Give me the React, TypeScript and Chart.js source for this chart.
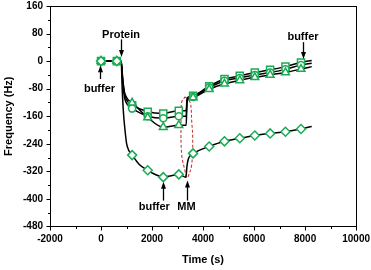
import React, { useEffect, useRef } from 'react';
import { Chart, registerables } from 'chart.js';

Chart.register(...registerables);

const FONT = "'Liberation Sans', Arial, Helvetica, sans-serif";
const GREEN = '#1aab55';
const RED = '#c43a3a';

// Marker sample times (s)
const markerTimes = [0, 620, 1220, 1830, 2440, 3050, 3610, 4240, 4840, 5440, 6030, 6630, 7230, 7840];
const squareVals = [0, 0, -128, -147, -152, -144, -101, -73, -52, -43, -33, -25, -16, -4];
const circleVals = [0, 0, -138, -160, -166, -160, -104, -77, -57, -49, -40, -33, -24, -11];
const triangleVals = [0, 0, -121, -164, -192, -186, -106, -82, -66, -56, -47, -40, -33, -23];
const diamondVals = [0, 0, -273, -317, -337, -329, -268, -248, -233, -224, -216, -210, -205, -197];

// Fitted (continuous) curves
const upperFitTimes = [0, 620, 790, 850, 920, 1000, 1100, 1220, 1830, 2440, 3050, 3340, 3370, 3430, 3610, 4240, 4840, 5440, 6030, 6630, 7230, 7840, 8260];
const squareFit = [0, 0, 0, -55, -95, -112, -122, -128, -147, -152, -144, -144, -112, -104, -101, -73, -52, -43, -33, -25, -16, -4, 2];
const circleFit = [0, 0, 0, -60, -105, -122, -132, -138, -160, -166, -160, -160, -116, -108, -104, -77, -57, -49, -40, -33, -24, -11, -6];
const triangleFit = [0, 0, 0, -50, -90, -105, -115, -121, -164, -192, -186, -186, -120, -110, -106, -82, -66, -56, -47, -40, -33, -23, -16];

const diamondFitTimes = [0, 620, 790, 830, 880, 940, 1000, 1080, 1220, 1500, 1830, 2150, 2440, 2750, 3050, 3330, 3370, 3420, 3500, 3610, 4240, 4840, 5440, 6030, 6630, 7230, 7840, 8260];
const diamondFit = [0, 0, 0, -80, -150, -200, -238, -258, -273, -300, -317, -330, -337, -333, -329, -337, -305, -285, -274, -268, -248, -233, -224, -216, -210, -205, -197, -190];

// Red dashed loop
const loopTimes = [3294, 3489, 3556, 3595, 3556, 3422, 3359, 3294, 3164, 3136, 3164, 3294];
const loopVals = [-104, -119, -176, -224, -300, -334, -339, -319, -272, -176, -119, -104];

// Axis ticks
const xMin = -2000, xMax = 10000, xStep = 2000, xMinor = 1000;
const yMin = -480, yMax = 160, yStep = 80, yMinor = 40;

// Annotations: label text + arrow (data coordinates)
const notes = [
  { text: 'Protein', tx: 784, ty: 77, ax: 784, ay0: 63, ay1: 12 },
  { text: 'buffer', tx: -59, ty: -80, ax: -39, ay0: -52, ay1: -12 },
  { text: 'buffer', tx: 2089, ty: -423, ax: 2419, ay0: -405, ay1: -350 },
  { text: 'MM', tx: 3352, ty: -423, ax: 3359, ay0: -405, ay1: -347 },
  { text: 'buffer', tx: 7918, ty: 69, ax: 7907, ay0: 55, ay1: 6 },
];

const xTitle = 'Time (s)';
const yTitle = 'Frequency (Hz)';

const W0 = 371, H0 = 270;
const AREA = { left: 50, top: 6, right: 356, bottom: 229 };

const pts = (ts: number[], vs: number[]) => ts.map((t, i) => ({ x: t, y: vs[i] }));

const overlay = {
  id: 'overlay',
  afterDraw(chart: any) {
    const ctx = chart.ctx;
    const { left, right, top, bottom } = chart.chartArea;
    const xs = chart.scales.x;
    const ys = chart.scales.y;
    ctx.save();
    ctx.strokeStyle = '#000';
    ctx.lineWidth = 1;
    ctx.strokeRect(Math.round(left) + 0.5, Math.round(top) + 0.5, Math.round(right - left), Math.round(bottom - top));
    // ticks outward
    ctx.beginPath();
    const b = Math.round(bottom) + 0.5;
    const l = Math.round(left) + 0.5;
    for (let v = xMin; v <= xMax; v += xMinor) {
      const px = Math.round(xs.getPixelForValue(v)) + 0.5;
      const len = v % xStep === 0 ? 4 : 2.5;
      ctx.moveTo(px, b);
      ctx.lineTo(px, b + len);
    }
    for (let v = yMin; v <= yMax; v += yMinor) {
      const py = Math.round(ys.getPixelForValue(v)) + 0.5;
      const len = Math.abs(v) % yStep === 0 ? 4 : 2.5;
      ctx.moveTo(l, py);
      ctx.lineTo(l - len, py);
    }
    ctx.stroke();

    // annotations
    ctx.fillStyle = '#000';
    ctx.font = `bold 11px ${FONT}`;
    ctx.textAlign = 'center';
    ctx.textBaseline = 'middle';
    for (const n of notes) {
      ctx.fillText(n.text, xs.getPixelForValue(n.tx), ys.getPixelForValue(n.ty));
      const ax = Math.round(xs.getPixelForValue(n.ax)) + 0.5;
      const y0 = ys.getPixelForValue(n.ay0);
      const y1 = ys.getPixelForValue(n.ay1);
      const dir = y1 > y0 ? 1 : -1;
      ctx.lineWidth = 1.3;
      ctx.beginPath();
      ctx.moveTo(ax, y0);
      ctx.lineTo(ax, y1 - dir * 5);
      ctx.stroke();
      ctx.beginPath();
      ctx.moveTo(ax, y1);
      ctx.lineTo(ax - 2.5, y1 - dir * 7);
      ctx.lineTo(ax + 2.5, y1 - dir * 7);
      ctx.closePath();
      ctx.fill();
    }

    // axis titles (relative to plot area)
    ctx.font = `bold 11px ${FONT}`;
    ctx.fillText(xTitle, left + 153, bottom + 34);
    ctx.save();
    ctx.translate(left - 41, (top + bottom) / 2);
    ctx.rotate(-Math.PI / 2);
    ctx.fillText(yTitle, 0, 0);
    ctx.restore();
    ctx.restore();
  },
};

export default function App() {
  const ref = useRef<HTMLCanvasElement>(null);
  useEffect(() => {
    document.body.style.margin = '0';
    document.body.style.overflow = 'hidden';
    const canvas = ref.current!;
    const lineDs = (ts: number[], vs: number[]) => ({
      type: 'line' as const,
      data: pts(ts, vs),
      borderColor: '#000',
      borderWidth: 1.5,
      pointRadius: 0,
      cubicInterpolationMode: 'monotone' as const,
      fill: false,
      order: 2,
    });
    const markDs = (vs: number[], style: string, r: number) => ({
      type: 'line' as const,
      data: pts(markerTimes, vs),
      showLine: false,
      pointStyle: style,
      pointRadius: r,
      pointBorderColor: GREEN,
      pointBackgroundColor: '#fff',
      pointBorderWidth: 1.5,
      order: 0,
    });
    const chart = new Chart(canvas, {
      type: 'line',
      data: {
        datasets: [
          markDs(diamondVals, 'rectRot', 4.5),
          markDs(triangleVals, 'triangle', 4.5),
          markDs(circleVals, 'circle', 3.5),
          markDs(squareVals, 'rect', 5),
          lineDs(upperFitTimes, squareFit),
          lineDs(upperFitTimes, circleFit),
          lineDs(upperFitTimes, triangleFit),
          lineDs(diamondFitTimes, diamondFit),
          {
            type: 'line',
            data: pts(loopTimes, loopVals),
            borderColor: RED,
            borderWidth: 1.1,
            borderDash: [3, 2],
            pointRadius: 0,
            tension: 0.4,
            fill: false,
            order: 3,
          },
        ] as any,
      },
      options: {
        animation: false,
        responsive: false,
        devicePixelRatio: 1,
        layout: { padding: 0 },
        plugins: { legend: { display: false }, tooltip: { enabled: false } },
        scales: {
          x: {
            type: 'linear',
            min: xMin,
            max: xMax,
            ticks: {
              stepSize: xStep,
              autoSkip: false,
              maxRotation: 0,
              padding: 7,
              color: '#000',
              font: { family: FONT, size: 10, weight: 'bold' },
              callback: (v: any) => String(v),
            },
            grid: { display: false, drawTicks: false },
            border: { display: false },
            afterFit: (s: any) => { s.height = H0 - AREA.bottom; },
          },
          y: {
            type: 'linear',
            min: yMin,
            max: yMax,
            ticks: {
              stepSize: yStep,
              autoSkip: false,
              padding: 7,
              color: '#000',
              font: { family: FONT, size: 10, weight: 'bold' },
              callback: (v: any) => String(v),
            },
            grid: { display: false, drawTicks: false },
            border: { display: false },
            afterFit: (s: any) => { s.width = AREA.left; },
          },
        },
      } as any,
      plugins: [overlay],
    });
    // Shift/resize canvas so the plot area lands at the target position
    const ca = chart.chartArea;
    const dy = Math.round(ca.top - AREA.top);
    const rightGap = Math.round(W0 - ca.right);
    const W = AREA.right + rightGap;
    const H = H0 + dy;
    canvas.style.marginTop = `${-dy}px`;
    chart.resize(W, H);
    return () => chart.destroy();
  }, []);
  return (
    <canvas
      ref={ref}
      width={W0}
      height={H0}
      style={{ display: 'block', width: W0, height: H0 }}
    />
  );
}
